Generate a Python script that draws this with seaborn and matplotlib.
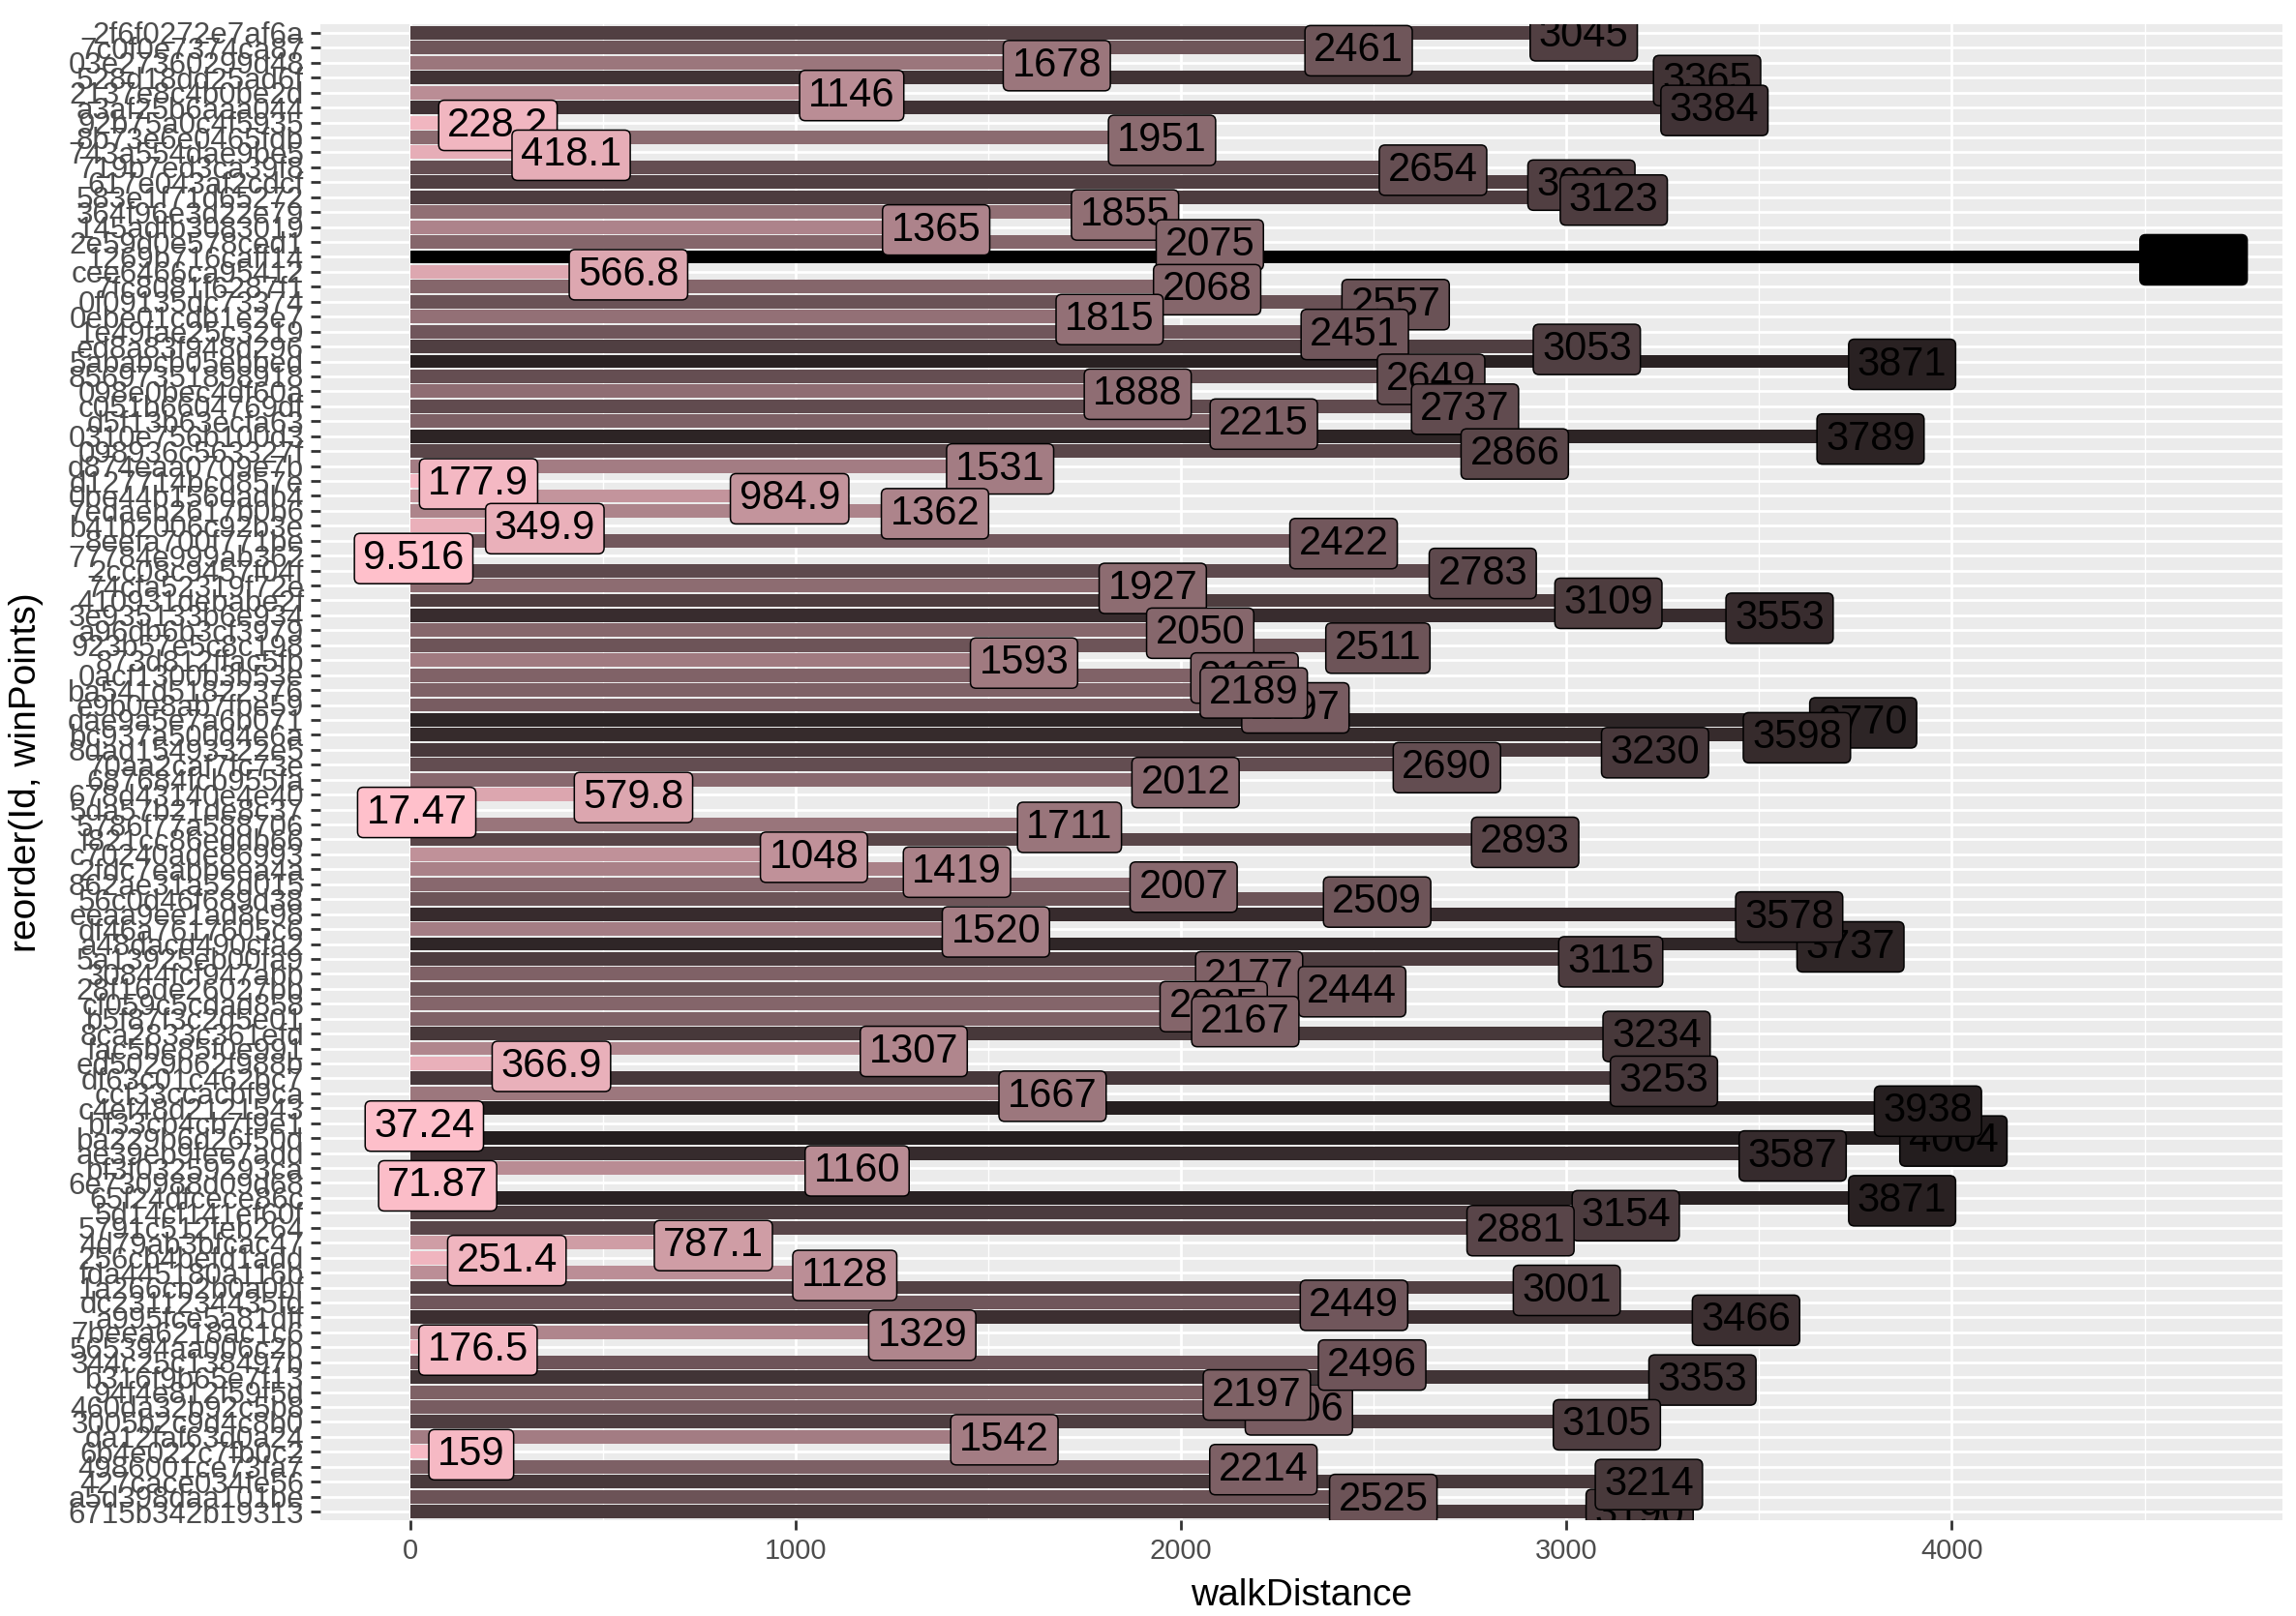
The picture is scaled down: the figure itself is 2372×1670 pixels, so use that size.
import numpy as np
import pandas as pd
import matplotlib
matplotlib.use("Agg")
import matplotlib.pyplot as plt
import seaborn as sns
from matplotlib.patches import FancyBboxPatch
from matplotlib.transforms import IdentityTransform, ScaledTranslation
from matplotlib.ticker import MultipleLocator

# ---------------- data (top row first) ----------------
ids = [
    "2f6f0272e7af6a", "7c0f0e7374ca87", "03e27360299d48", "528d18dd25ad6f", "2137e8c4b0be2d",
    "a3af25b6aaa044", "92b75a0c4f5935", "8b73e6e0465fdb", "743a554dae9be5", "719b7ed3ca39f8",
    "617e043af2cdcf", "583e1f71d65272", "364f96e3d22e79", "145adfb3083019", "2e59d0e578ced1",
    "1269b716caff14", "cee6466ca95412", "7fc8081f6287f1", "0f09135dc73374", "0ebe01cdb1e2e7",
    "1e49fae25c3219", "ed8a83f948d296", "5ababcb05ebbed", "85697351898918", "098e0bec4df60a",
    "c051b6604769df", "d5f13b63ecfa63", "0310e756b100d3", "098936c563327f", "d874eaa0709e7b",
    "d127714bcd857e", "0be44b156dadb4", "7edaeb2617b0b6", "b41b2006c92b3e", "8eefa700f771be",
    "77784e999ab362", "2cc08c9457f04f", "74cfa52319f72e", "410931debabe2f", "3e935133b6e934",
    "a96db6b3cf3979", "923b57e5c8c198", "873d812ffac5fb", "0acf1300b3b53e", "ba541d51822376",
    "e9b0e8ab7fbe59", "dae9a5e7a6b071", "bc937a500d4e6a", "8dad15493322e5", "70aa2caf7fc73e",
    "687684fcb955fa", "678d43140e4e40", "5da57b21de8c37", "5786f77a588706", "f821cc86eddb66",
    "c70240ade86993", "2fdc7eabbeea4a", "862ae31a52d015", "56c0d46f689d38", "eeaa9ee1ad8c98",
    "df46a7617605c6", "a48dacd490cfa2", "5a13925eb00fa9", "30844fcf947abb", "28f16de26027bb",
    "cf059c5cdad858", "b5f87f3c2d5e01", "8ca2833c361efd", "fac5be85f0e991", "ed5029b62f988b",
    "df63c01c462bc7", "ccf33ccacbf9ca", "c4ef48d2121543", "bf33cb4cb7f9e1", "ba229b6d26f50d",
    "ae39eb9fee7add", "bf3f03259293ca", "6e730988d09d68", "65f24dfcece86c", "5d14cf141ef60f",
    "5791c512feb264", "4d79ab3bfcac47", "256cb4befd1add", "fda445180a116b", "1a266cb2b0a0bf",
    "dc2311234435fd", "a995fce5a81dff", "7beea6218ac1c6", "565394aa006c2b", "344c25c138497b",
    "b316f9b65e7f13", "94f4e812f59f5d", "460da32b92c5b8", "3005b2c9d4c8b0", "da12faf63d0a24",
    "6b4e022c7fb0c2", "4986001ce73fa7", "427cace034fe56", "a5d398daa101be", "6715b342b19313",
]

walk_distance = [
    3045, 2461, 1678, 3365, 1146, 3384, 228.2, 1951, 418.1, 2654,
    3039, 3123, 1855, 1365, 2075, 4627, 566.8, 2068, 2557, 1815,
    2451, 3053, 3871, 2649, 1888, 2737, 2215, 3789, 2866, 1531,
    177.9, 984.9, 1362, 349.9, 2422, 9.516, 2783, 1927, 3109, 3553,
    2050, 2511, 1593, 2165, 2189, 2297, 3770, 3598, 3230, 2690,
    2012, 579.8, 17.47, 1711, 2893, 1048, 1419, 2007, 2509, 3578,
    1520, 3737, 3115, 2177, 2444, 2085, 2167, 3234, 1307, 366.9,
    3253, 1667, 3938, 37.24, 4004, 3587, 1160, 71.87, 3871, 3154,
    2881, 787.1, 251.4, 1128, 3001, 2449, 3466, 1329, 176.5, 2496,
    3353, 2197, 2306, 3105, 1542, 159, 2214, 3214, 2525, 3190,
]

# labels drawn first (so that neighbours overlap them)
labels_behind = ["e9b0e8ab7fbe59", "a48dacd490cfa2", "ba229b6d26f50d",
                 "460da32b92c5b8", "6715b342b19313"]

# ---------------- colour scale: pink -> black in CIELAB ----------------
WHITE = np.array([0.95047, 1.0, 1.08883])
M = np.array([[0.4124, 0.3576, 0.1805], [0.2126, 0.7152, 0.0722], [0.0193, 0.1192, 0.9505]])


def srgb2lab(rgb):
    c = np.asarray(rgb, float) / 255.0
    lin = np.where(c <= 0.04045, c / 12.92, ((c + 0.055) / 1.055) ** 2.4)
    xyz = M @ lin / WHITE
    f = np.where(xyz > 0.008856, np.cbrt(xyz), 7.787 * xyz + 16 / 116)
    return np.array([116 * f[1] - 16, 500 * (f[0] - f[1]), 200 * (f[1] - f[2])])


def lab2srgb(lab):
    L, a, b = lab
    fy = (L + 16) / 116
    fx = fy + a / 500
    fz = fy - b / 200
    f = np.array([fx, fy, fz])
    xyz = np.where(f ** 3 > 0.008856, f ** 3, (f - 16 / 116) / 7.787) * WHITE
    lin = np.linalg.solve(M, xyz)
    lin = np.clip(lin, 0, 1)
    c = np.where(lin <= 0.0031308, 12.92 * lin, 1.055 * lin ** (1 / 2.4) - 0.055)
    return tuple(np.clip(c, 0, 1))


low_lab = srgb2lab((255, 192, 203))
high_lab = srgb2lab((0, 0, 0))
vals = np.array(walk_distance, float)
tnorm = (vals - vals.min()) / (vals.max() - vals.min())
colors = [lab2srgb(low_lab * (1 - t) + high_lab * t) for t in tnorm]

# ---------------- figure ----------------
sns.set_style("darkgrid", {"axes.facecolor": "#EBEBEB", "grid.color": "white"})
plt.rcParams["font.family"] = ["Liberation Sans", "DejaVu Sans"]

W, H = 2372, 1670
fig = plt.figure(figsize=(W / 100, H / 100), dpi=100)
fig.patch.set_facecolor("white")

n = len(ids)
xmax = vals.max()
xlo, xhi = -0.05 * xmax, 1.05 * xmax
left_px, right_px = 331.4, 2358.3
top_px, bot_px = 24.7, 1571.3
ax = fig.add_axes([left_px / W, 1 - bot_px / H, (right_px - left_px) / W, (bot_px - top_px) / H])

df = pd.DataFrame({"Id": ids, "walkDistance": walk_distance})
sns.barplot(data=df, x="walkDistance", y="Id", hue="Id", order=ids, hue_order=ids,
            palette=colors, width=0.9, saturation=1, legend=False, orient="h",
            linewidth=0, ax=ax)

ax.set_xlim(xlo, xhi)
ax.set_ylim(n - 1 + 0.6, -0.6)
ax.set_axisbelow(True)
ax.xaxis.set_major_locator(MultipleLocator(1000))
ax.xaxis.set_minor_locator(MultipleLocator(500))
ax.grid(which="major", axis="both", color="white", lw=2.0)
ax.grid(which="minor", axis="x", color="white", lw=1.0)
for s in ax.spines.values():
    s.set_visible(False)

ax.tick_params(axis="both", which="major", length=7, width=2, color="#333333",
               labelcolor="#4D4D4D", left=True, bottom=True)
ax.tick_params(axis="y", labelsize=22.5, pad=5.5)
ax.tick_params(axis="x", labelsize=21, pad=6)
ax.tick_params(which="minor", length=0)

ax.set_xlabel("walkDistance", fontsize=28, color="black", va="center")
ax.set_ylabel("reorder(Id, winPoints)", fontsize=28, color="black", va="center", ha="center")
ax.xaxis.set_label_coords(0.5, (21 - (H - bot_px)) / (bot_px - top_px))
ax.yaxis.set_label_coords((27 - left_px) / (right_px - left_px), 0.5)

# ---------------- labels (geom_label style) ----------------
shift_px = 3
text_tr = ax.transData + ScaledTranslation(0, -shift_px / 100, fig.dpi_scale_trans)
order = [ids.index(i) for i in labels_behind] + [k for k in range(n) if ids[k] not in labels_behind]
texts = {}
for rank, k in enumerate(order):
    v = walk_distance[k]
    t = ax.text(v, k, "{:.4g}".format(v), ha="center", va="center", fontsize=30,
                color="black", zorder=4 + 2 * rank, clip_on=True, transform=text_tr)
    texts[k] = (t, rank)

fig.canvas.draw()
renderer = fig.canvas.get_renderer()
padx, boxh, rad = 9, 52, 6
for k, (t, rank) in texts.items():
    bb = t.get_window_extent(renderer)
    cy = ax.transData.transform((walk_distance[k], k))[1] - shift_px
    box = FancyBboxPatch((bb.x0 - padx, cy - boxh / 2), bb.width + 2 * padx, boxh,
                         boxstyle="round,pad=0,rounding_size=%d" % rad,
                         facecolor=colors[k], edgecolor="black", linewidth=1.1,
                         transform=IdentityTransform(), zorder=3 + 2 * rank)
    ax.add_patch(box)

fig.savefig("out.png", dpi=100)
